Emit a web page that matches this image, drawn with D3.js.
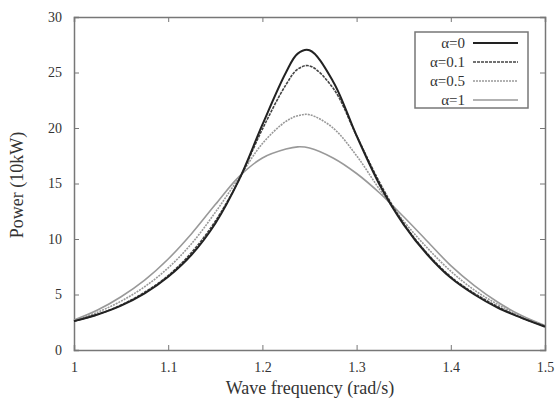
<!DOCTYPE html>
<html>
<head>
<meta charset="utf-8">
<script src="https://cdn.jsdelivr.net/npm/d3@7"></script>
<style>
  body { margin: 0; background: #fff; }
  svg { display: block; }
  text { font-family: "Liberation Serif", "DejaVu Serif", serif; fill: #333; }
</style>
</head>
<body>
<div id="chart"></div>
<script>
// wave frequency grid (rad/s)
var freq = [1.0, 1.025, 1.05, 1.075, 1.1, 1.125, 1.15, 1.175, 1.2, 1.225, 1.2375,
            1.25, 1.275, 1.3, 1.325, 1.35, 1.375, 1.4, 1.425, 1.45, 1.475, 1.5];

// power (10kW) for each alpha
var power_a0   = [2.6, 3.2, 4.0, 5.1, 6.6, 8.6, 11.4, 15.3, 20.3, 25.0, 26.7,
                  27.0, 24.2, 19.3, 14.8, 11.3, 8.6, 6.5, 5.0, 3.8, 2.9, 2.1];
var power_a01  = [2.6, 3.2, 4.05, 5.2, 6.7, 8.8, 11.6, 15.3, 19.9, 23.9, 25.3,
                  25.6, 23.6, 19.3, 15.0, 11.4, 8.7, 6.6, 5.1, 3.9, 2.9, 2.15];
var power_a05  = [2.65, 3.4, 4.4, 5.7, 7.4, 9.6, 12.4, 15.5, 18.6, 20.6, 21.1,
                  21.2, 20.0, 17.5, 14.4, 11.6, 9.2, 7.1, 5.4, 4.1, 3.0, 2.15];
var power_a1   = [2.7, 3.6, 4.8, 6.3, 8.2, 10.5, 13.1, 15.6, 17.3, 18.1, 18.3,
                  18.2, 17.3, 15.9, 14.1, 12.0, 9.8, 7.6, 5.8, 4.3, 3.1, 2.2];

var seriesNames = ["\u03b1=0", "\u03b1=0.1", "\u03b1=0.5", "\u03b1=1"];
var xTicks = [1, 1.1, 1.2, 1.3, 1.4, 1.5];
var yTicks = [0, 5, 10, 15, 20, 25, 30];

var styles = [
    { color: "#222", width: 2, dash: null },
    { color: "#444", width: 1.6, dash: "3,1" },
    { color: "#999", width: 1.6, dash: "2,1" },
    { color: "#999", width: 1.6, dash: null }
];

var width = 555, height = 403;
var margin = { top: 17, right: 10, bottom: 53, left: 74 };
var plotW = 545 - margin.left;
var plotH = 350 - margin.top;

var svg = d3.select('#chart').append('svg')
    .attr('width', width)
    .attr('height', height);

var g = svg.append('g')
    .attr('transform', 'translate(' + margin.left + ',' + margin.top + ')');

var xScale = d3.scaleLinear().domain([1, 1.5]).range([0, plotW]);
var yScale = d3.scaleLinear().domain([0, 30]).range([plotH, 0]);

// axes with inward ticks, mirrored on top and right
var axisColor = "#777";
var bottomAxis = g.append('g')
    .attr('transform', 'translate(0,' + plotH + ')')
    .call(d3.axisBottom(xScale).tickValues(xTicks).tickSize(-5).tickPadding(12)
        .tickFormat(function(d) { return d3.format('')(+d.toFixed(1)); }));
var leftAxis = g.append('g')
    .call(d3.axisLeft(yScale).tickValues(yTicks).tickSize(-5).tickPadding(12));
var topAxis = g.append('g')
    .call(d3.axisTop(xScale).tickValues(xTicks).tickSize(-5).tickFormat(''));
var rightAxis = g.append('g')
    .attr('transform', 'translate(' + plotW + ',0)')
    .call(d3.axisRight(yScale).tickValues(yTicks).tickSize(-5).tickFormat(''));

[bottomAxis, leftAxis, topAxis, rightAxis].forEach(function(a) {
    a.select('.domain').attr('stroke', axisColor).attr('stroke-width', 1.5);
    a.selectAll('.tick line').attr('stroke', axisColor).attr('stroke-width', 1);
    a.selectAll('.tick text').style('font-size', '14px').style('font-family', '"Liberation Serif", serif').attr('fill', '#333');
});

// curves
var allSeries = [power_a0, power_a01, power_a05, power_a1];
var line = d3.line()
    .x(function(d, i) { return xScale(freq[i]); })
    .y(function(d) { return yScale(d); })
    .curve(d3.curveCatmullRom.alpha(0.5));

// draw light ones first so dark stays on top
for (var k = allSeries.length - 1; k >= 0; k--) {
    g.append('path')
        .datum(allSeries[k])
        .attr('fill', 'none')
        .attr('stroke', styles[k].color)
        .attr('stroke-width', styles[k].width)
        .attr('stroke-dasharray', styles[k].dash)
        .attr('d', line);
}

// legend
var legend = svg.append('g').attr('transform', 'translate(415,32)');
legend.append('rect')
    .attr('width', 113).attr('height', 76)
    .attr('fill', '#fff').attr('stroke', axisColor).attr('stroke-width', 1.5);

seriesNames.forEach(function(name, i) {
    var yy = 11 + i * 19;
    legend.append('text')
        .attr('x', 50).attr('y', yy + 5)
        .attr('text-anchor', 'end')
        .style('font-size', '15px')
        .text(name);
    legend.append('line')
        .attr('x1', 58).attr('x2', 103)
        .attr('y1', yy).attr('y2', yy)
        .attr('stroke', styles[i].color)
        .attr('stroke-width', styles[i].width)
        .attr('stroke-dasharray', styles[i].dash);
});

// axis titles
svg.append('text')
    .attr('x', 310).attr('y', 394)
    .attr('text-anchor', 'middle')
    .style('font-size', '18px')
    .text('Wave frequency (rad/s)');

svg.append('text')
    .attr('transform', 'translate(23,185) rotate(-90)')
    .attr('text-anchor', 'middle')
    .style('font-size', '18px')
    .text('Power (10kW)');
</script>
</body>
</html>
